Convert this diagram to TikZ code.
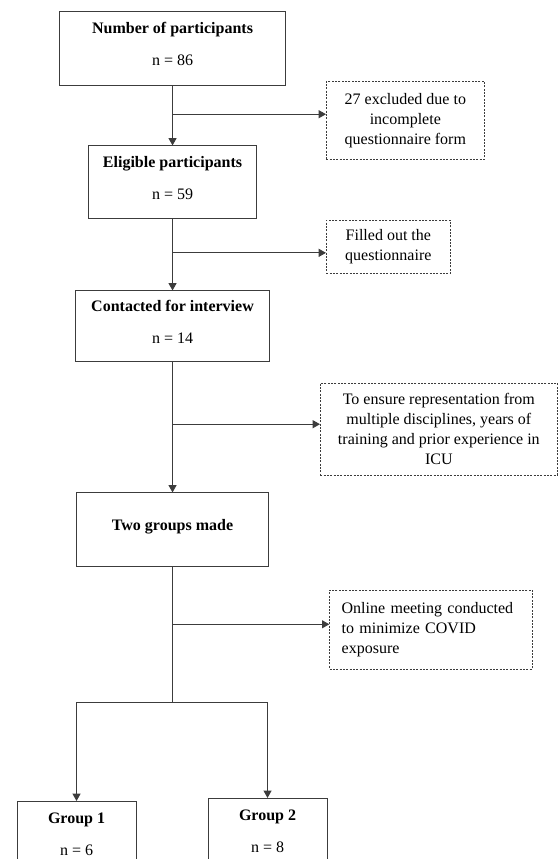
\documentclass[tikz,border=0pt]{standalone}
\usepackage{fontspec}
\setmainfont{Liberation Serif}
\usepackage{tikz}
\usetikzlibrary{positioning, arrows.meta}
\definecolor{linegray}{HTML}{3C3C3C}
\newcommand{\padlow}{\rule[-7pt]{0pt}{7pt}} % extra depth so the text sits a bit high in its box
\tikzset{
    every node/.style={font=\fontsize{12pt}{15pt}\selectfont}, % Times-like body text
    mainbox/.style={draw=linegray, line width=0.75pt, align=center, inner sep=0pt}, % solid boxes of the main flow
    notebox/.style={draw=linegray, line width=0.5pt, dash pattern=on 1.5pt off 1pt, align=center, inner sep=0pt}, % dotted side notes
    flow/.style={draw=linegray, line width=0.75pt},
    arrow/.style={flow, -{Triangle[length=5.5pt, width=6pt]}}, % filled arrow heads
    }

\begin{document}
\begin{tikzpicture}
\useasboundingbox (0,0) rectangle (418.5pt,-644.25pt);
\clip (0,0) rectangle (418.5pt,-644.25pt);

\node[mainbox, minimum width=169.5pt, minimum height=55.5pt] (total) at (129.4pt,-36.75pt) {\textbf{Number of participants}\\[9pt]n = 86\padlow};
\node[mainbox, minimum width=126pt, minimum height=54.75pt, node distance=100.1pt, below of=total] (eligible) {\textbf{Eligible participants}\\[9pt]n = 59\padlow};
\node[mainbox, minimum width=145.5pt, minimum height=53.25pt, node distance=108pt, below of=eligible] (contacted) {\textbf{Contacted for interview}\\[9pt]n = 14\padlow};
\node[mainbox, minimum width=144pt, minimum height=55.5pt, node distance=152.6pt, below of=contacted] (groups) {\textbf{Two groups made}\padlow};

\draw[arrow] (total) -- (eligible) coordinate[pos=0.47] (j1);
\draw[arrow] (eligible) -- (contacted) coordinate[pos=0.47] (j2);
\draw[arrow] (contacted) -- (groups) coordinate[pos=0.475] (j3);

\node[notebox, minimum width=118.5pt, minimum height=58.5pt, right=115.1pt of j1, yshift=-4.5pt] (excluded) {27 excluded due to\\incomplete\\questionnaire form};
\node[notebox, minimum width=93pt, minimum height=39.75pt, right=115.1pt of j2, yshift=4.5pt] (filled) {Filled out the\\questionnaire};
\node[notebox, minimum width=177.75pt, minimum height=69pt, right=110.6pt of j3, yshift=-3.5pt] (ensure) {To ensure representation from\\multiple disciplines, years of\\training and prior experience in\\ICU};

\draw[arrow] (j1) -- (j1 -| excluded.west);
\draw[arrow] (j2) -- (j2 -| filled.west);
\draw[arrow] (j3) -- (j3 -| ensure.west);

% split into the two groups
\coordinate (split) at ([yshift=-101.5pt]groups.south);
\draw[flow] (groups) -- (split) coordinate[pos=0.42] (j4);
\node[notebox, align=left, text width=134pt, inner xsep=9pt, minimum height=59.25pt, right=117.6pt of j4, yshift=-3.9pt] (online) {Online meeting conducted\\to minimize COVID\\exposure};
\draw[arrow] (j4) -- (j4 -| online.west);

\node[mainbox, minimum width=89.25pt, minimum height=55.5pt] (group1) at ([shift={(-72pt,-101.8pt)}]split) {\textbf{Group 1}\\[9pt]n = 6\padlow};
\node[mainbox, minimum width=89.25pt, minimum height=55.5pt] (group2) at ([shift={(71.25pt,-99.5pt)}]split) {\textbf{Group 2}\\[9pt]n = 8\padlow};
\draw[arrow] (split) -| (group1);
\draw[arrow] (split) -| (group2);

\end{tikzpicture}
\end{document}
